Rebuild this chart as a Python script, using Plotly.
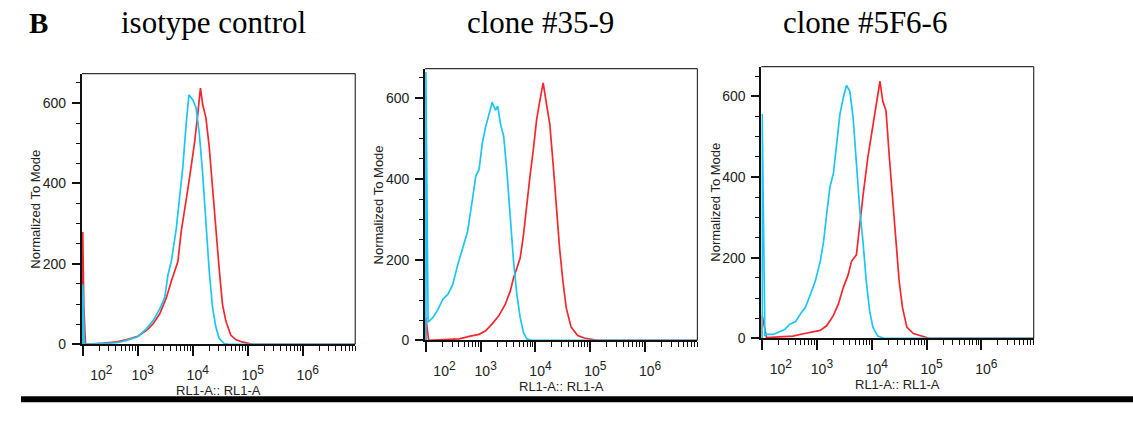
import numpy as np
import plotly.graph_objects as go

W, H = 1133, 422

# ---------------- data (x as log10 of RL1-A, y = normalized to mode) -------------
panel_titles = ["isotype control", "clone #35-9", "clone #5F6-6"]
x_tick_vals = [1e2, 1e3, 1e4, 1e5, 1e6]
x_tick_exp = ["2", "3", "4", "5", "6"]
y_tick_vals = [0, 200, 400, 600]

iso_red_log = [2.0, 2.0, 2.02, 2.05, 2.38, 2.62, 2.80, 3.0, 3.16, 3.28, 3.40, 3.52, 3.61,
               3.67, 3.73, 3.79, 3.85, 3.91, 3.97, 4.03, 4.09, 4.14, 4.18, 4.24, 4.30,
               4.36, 4.42, 4.48, 4.54, 4.60, 4.69, 4.78, 4.90, 5.02, 5.08, 6.96]
iso_red_cnt = [0, 279, 92, 0, 3, 6, 12, 20, 35, 51, 76, 116, 157, 181, 206, 280, 328,
               385, 441, 498, 571, 637, 596, 563, 490, 385, 295, 189, 100, 59, 23, 12,
               6, 2, 0, 0]
iso_cyan_log = [2.0, 2.0, 2.03, 2.38, 2.62, 2.80, 3.0, 3.16, 3.28, 3.40, 3.49, 3.55, 3.61,
                3.70, 3.76, 3.82, 3.88, 3.93, 4.00, 4.06, 4.12, 4.18, 4.24, 4.30, 4.36,
                4.42, 4.48, 4.57, 4.65, 6.96]
iso_cyan_cnt = [0, 149, 0, 3, 4, 10, 19, 39, 59, 88, 116, 173, 206, 287, 360, 441, 547,
                620, 608, 588, 523, 425, 303, 181, 92, 43, 15, 2, 0, 0]

c359_red_log = [2.0, 2.0, 2.05, 2.37, 2.61, 2.79, 2.97, 3.09, 3.21, 3.33, 3.45, 3.54,
                3.60, 3.66, 3.72, 3.78, 3.84, 3.90, 3.96, 4.02, 4.08, 4.14, 4.20, 4.26,
                4.32, 4.38, 4.44, 4.50, 4.56, 4.65, 4.77, 4.89, 5.07, 5.13, 6.96]
c359_red_cnt = [0, 57, 0, 2, 4, 10, 15, 24, 41, 61, 90, 122, 155, 179, 204, 261, 342,
                407, 472, 546, 594, 638, 586, 537, 440, 334, 228, 147, 81, 33, 12, 6, 2,
                0, 0]
c359_cyan_log = [2.0, 2.0, 2.04, 2.13, 2.22, 2.31, 2.40, 2.49, 2.58, 2.67, 2.76, 2.85,
                 2.91, 2.97, 3.03, 3.09, 3.15, 3.21, 3.27, 3.31, 3.36, 3.42, 3.48, 3.54,
                 3.60, 3.66, 3.72, 3.78, 3.84, 3.93, 6.96]
c359_cyan_cnt = [0, 665, 45, 57, 77, 102, 114, 138, 187, 228, 269, 350, 407, 423, 489,
                 529, 562, 590, 570, 580, 537, 505, 415, 309, 195, 114, 57, 20, 4, 0, 0]

c5f6_red_log = [2.0, 2.0, 2.08, 2.32, 2.56, 2.73, 2.91, 3.06, 3.18, 3.30, 3.39, 3.48,
                3.57, 3.63, 3.72, 3.78, 3.84, 3.93, 3.99, 4.05, 4.11, 4.15, 4.20, 4.26,
                4.32, 4.38, 4.44, 4.50, 4.56, 4.64, 4.76, 4.94, 5.06, 6.96]
c5f6_red_cnt = [0, 57, 2, 4, 6, 11, 16, 20, 32, 57, 85, 126, 158, 191, 207, 288, 353,
                450, 499, 556, 596, 637, 588, 564, 450, 345, 231, 142, 77, 28, 12, 4, 0, 0]
c5f6_cyan_log = [2.0, 2.0, 2.05, 2.08, 2.20, 2.29, 2.41, 2.50, 2.61, 2.70, 2.79, 2.88,
                 2.97, 3.06, 3.12, 3.18, 3.24, 3.30, 3.36, 3.42, 3.48, 3.54, 3.60, 3.66,
                 3.72, 3.78, 3.84, 3.90, 3.96, 4.02, 4.11, 4.23, 6.96]
c5f6_cyan_cnt = [0, 556, 8, 10, 10, 16, 22, 35, 42, 61, 77, 109, 142, 191, 239, 312, 377,
                 409, 491, 556, 596, 627, 612, 547, 434, 320, 239, 142, 69, 28, 6, 0, 0]

panels = [
    (iso_red_log, iso_red_cnt, iso_cyan_log, iso_cyan_cnt),
    (c359_red_log, c359_red_cnt, c359_cyan_log, c359_cyan_cnt),
    (c5f6_red_log, c5f6_red_cnt, c5f6_cyan_log, c5f6_cyan_cnt),
]

# ---------------- layout geometry (pixels, as measured on the reference) ----------
boxes = [(64, 342, 75, 351), (413, 690, 70, 347), (755, 1032, 68, 345)]
title_x = [198, 530, 860]

RED = "#F5272C"
CYAN = "#1CC6F4"
SANS = "Liberation Sans, Arial, sans-serif"
SERIF = "Liberation Serif, Times New Roman, serif"
AXFONT = dict(family=SANS, size=14, color="#222")
x_tick_text = [("\u00a0" * 7 if e == "2" else "") +
               "10<sup><span style='font-size:12px'>%s</span></sup>" % e
               for e in x_tick_exp]


def px_x(p):
    return p / W


def px_y(p):
    return 1 - p / H


minor_x = [k * 10 ** d for d in range(2, 7) for k in range(2, 10)]
minor_y = [v for v in range(50, 700, 50) if v not in y_tick_vals]

fig = go.Figure()
layout = dict(width=W, height=H, margin=dict(l=0, r=0, t=0, b=0),
              paper_bgcolor="white", plot_bgcolor="white", showlegend=False)
shapes = []
annotations = []

for i, ((rl, rc, cl, cc), (x0, x1, y0, y1)) in enumerate(zip(panels, boxes)):
    n = "" if i == 0 else str(i + 1)
    xa, ya = "x" + n, "y" + n
    fig.add_trace(go.Scatter(x=10 ** np.array(rl), y=rc, mode="lines",
                             line=dict(color=RED, width=1.7), xaxis=xa, yaxis=ya,
                             hoverinfo="skip"))
    fig.add_trace(go.Scatter(x=10 ** np.array(cl), y=cc, mode="lines",
                             line=dict(color=CYAN, width=1.7), xaxis=xa, yaxis=ya,
                             hoverinfo="skip"))
    layout["xaxis" + n] = dict(
        domain=[px_x(x0), px_x(x1)], anchor=ya, type="log", range=[1.985, 6.955],
        showgrid=False, zeroline=False, showline=True, linecolor="#111", linewidth=2,
        ticks="outside", ticklen=10, tickwidth=1.5, tickcolor="#111",
        tickvals=x_tick_vals, ticktext=x_tick_text, tickfont=AXFONT,
        ticklabelshift=5, ticklabelstandoff=7,
        minor=dict(tickvals=minor_x, ticks="outside", ticklen=5, tickwidth=1.2,
                   tickcolor="#111", showgrid=False),
    )
    layout["yaxis" + n] = dict(
        domain=[px_y(y1), px_y(y0)], anchor=xa, range=[0, 673],
        showgrid=False, zeroline=False, showline=True, linecolor="#111", linewidth=2,
        ticks="outside", ticklen=8, tickwidth=1.5, tickcolor="#111",
        tickvals=y_tick_vals, tickfont=AXFONT, ticklabelstandoff=3,
        minor=dict(tickvals=minor_y, ticks="outside", ticklen=4, tickwidth=1.2,
                   tickcolor="#111", showgrid=False),
    )
    shapes.append(dict(type="line", xref=xa + " domain", yref=ya + " domain",
                       x0=0, x1=1, y0=1, y1=1, line=dict(color="#333", width=1.2)))
    shapes.append(dict(type="line", xref=xa + " domain", yref=ya + " domain",
                       x0=1, x1=1, y0=0, y1=1, line=dict(color="#333", width=1.2)))
    annotations.append(dict(text="RL1-A:: RL1-A", xref="paper", yref="paper",
                            x=px_x((x0 + x1) / 2), y=px_y(y1 + 47), showarrow=False,
                            xanchor="center", yanchor="middle",
                            font=dict(family=SANS, size=13, color="#222")))
    annotations.append(dict(text="Normalized To Mode", xref="paper", yref="paper",
                            x=px_x(x0 - 47), y=px_y((y0 + y1) / 2), showarrow=False,
                            textangle=-90, xanchor="center", yanchor="middle",
                            font=dict(family=SANS, size=13, color="#222")))
    annotations.append(dict(text=panel_titles[i], xref="paper", yref="paper",
                            x=px_x(title_x[i]), y=px_y(23), showarrow=False,
                            xanchor="center", yanchor="middle",
                            font=dict(family=SERIF, size=31, color="black")))

annotations.append(dict(text="<b>B</b>", xref="paper", yref="paper", x=px_x(8),
                        y=px_y(23), showarrow=False, xanchor="left", yanchor="middle",
                        font=dict(family=SERIF, size=29, color="black")))

shapes.append(dict(type="rect", xref="paper", yref="paper", x0=px_x(2), x1=1,
                   y0=px_y(410), y1=px_y(404), fillcolor="black", line=dict(width=0)))

layout["shapes"] = shapes
layout["annotations"] = annotations
fig.update_layout(**layout)
fig.write_html("out.html", config={"displayModeBar": False},
               post_script="document.body.style.margin='0';"
                           "document.body.style.overflow='hidden';")
